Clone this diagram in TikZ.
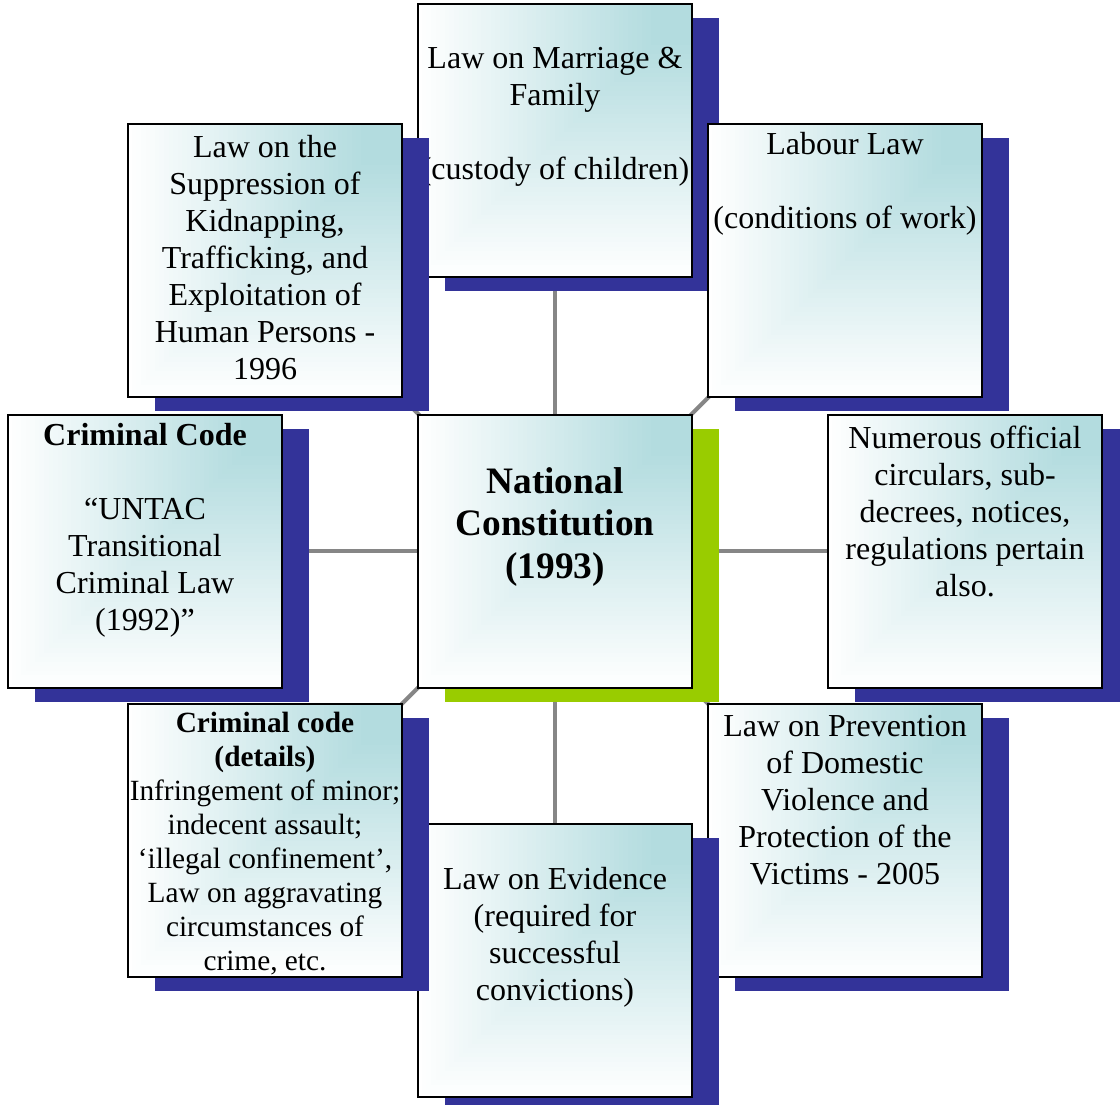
\documentclass[tikz,border=0pt]{standalone}
\usepackage{fontspec}
\setmainfont{Liberation Serif}
\usetikzlibrary{shadows, backgrounds}
\definecolor{shblue}{HTML}{333399}
\definecolor{shgreen}{HTML}{99CC00}
\definecolor{linkgray}{HTML}{868686}
\definecolor{cornerteal}{HTML}{B3DCDF}
\tikzset{
  lawcard/.style  = {draw=black, line width=1.5pt, fill=white,
                     minimum width=205.5pt, minimum height=204.75pt, inner sep=0pt,
                     path picture={
                       \foreach \i in {0,...,60} {
                         \pgfmathsetmacro\d{1-\i/60}
                         \pgfmathsetmacro\f{max(0,min(100,100*(1-\d)/0.85))}
                         \fill[cornerteal!\f!white] (path picture bounding box.north east)
                           rectangle ++(-\d*206pt, -\d*206pt);}}},
  lawbox/.style   = {lawcard, general shadow={shadow xshift=20.25pt, shadow yshift=-10.5pt, fill=shblue}},
  corebox/.style  = {lawcard, general shadow={shadow xshift=20.25pt, shadow yshift=-10.5pt, fill=shgreen}},
  lawtext/.style  = {font=\fontsize{24}{27.75}\selectfont, align=center, inner sep=0pt},
  coretext/.style = {font=\fontsize{28}{32}\selectfont\bfseries, align=center, inner sep=0pt},
  dettext/.style  = {font=\fontsize{22}{25.5}\selectfont, align=center, inner sep=0pt},
  link/.style     = {draw=linkgray, line width=3pt},
}

\begin{document}
\begin{tikzpicture}[x=0.75pt, y=0.75pt]
  \useasboundingbox (0,0) rectangle (1120,-1105);
  \node[lawbox] (fam) at (555,-140.5) {};
  \node[lawtext] (famtxt) at (555,-116.5) {Law on Marriage \&\\ Family\\[27.75pt] (custody of children)};
  \node[lawbox] (traf) at (265,-260.5) {};
  \node[lawtext] (traftxt) at (265,-257.5) {Law on the\\ Suppression of\\ Kidnapping,\\ Trafficking, and\\ Exploitation of\\ Human Persons -\\ 1996};
  \node[lawbox] (lab) at (845,-260.5) {};
  \node[lawtext] (labtxt) at (845,-184) {Labour Law\\[27.75pt] (conditions of work)};
  \node[lawbox] (crim) at (145,-551) {};
  \node[lawtext] (crimtxt) at (145,-530) {\textbf{Criminal Code}\\[27.75pt] “UNTAC\\ Transitional\\ Criminal Law\\ (1992)”};
  \node[corebox] (cons) at (555,-551) {};
  \node[coretext] (constxt) at (555,-527) {National\\ Constitution\\ (1993)};
  \node[lawbox] (circ) at (965,-551) {};
  \node[lawtext] (circtxt) at (965,-511) {Numerous official\\ circulars, sub-\\ decrees, notices,\\ regulations pertain\\ also.};
  \node[lawbox] (dv) at (845,-840.5) {};
  \node[lawtext] (dvtxt) at (845,-800.5) {Law on Prevention\\ of Domestic\\ Violence and\\ Protection of the\\ Victims - 2005};
  \node[lawbox] (evid) at (555,-960.5) {};
  \node[lawtext] (evidtxt) at (555,-937) {Law on Evidence\\ (required for\\ successful\\ convictions)};
  \node[lawbox] (det) at (265,-840.5) {};
  \node[dettext] (dettxt) at (265,-844) {\textbf{Criminal code}\\ \textbf{(details)}\\ Infringement of minor;\\ indecent assault;\\ ‘illegal confinement’,\\ Law on aggravating\\ circumstances of\\ crime, etc.};
  \begin{scope}[on background layer]
    \foreach \to in {fam, traf, lab, crim, circ, det, dv, evid}
      \draw[link] (cons.center) -- (\to.center);
  \end{scope}
\end{tikzpicture}
\end{document}
